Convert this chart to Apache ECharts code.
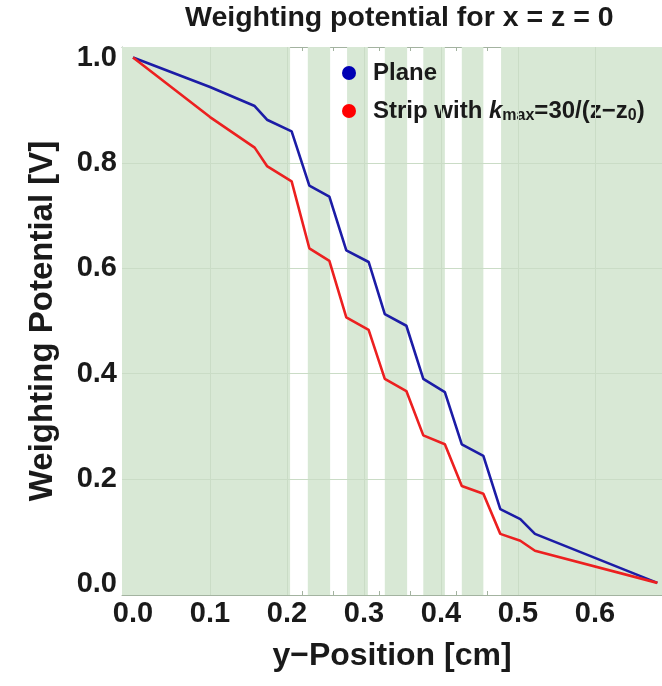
<!DOCTYPE html>
<html>
<head>
<meta charset="utf-8">
<script src="https://cdn.jsdelivr.net/npm/echarts@6/dist/echarts.min.js"></script>
<style>html,body{margin:0;padding:0;background:#fff}#c{width:662px;height:686px}</style>
</head>
<body>
<div id="c"></div>
<script>
// ---- data ----
const yPosition = [0, 0.1, 0.158, 0.174, 0.206, 0.229, 0.255, 0.277, 0.306, 0.327, 0.355, 0.377, 0.405, 0.427, 0.455, 0.477, 0.503, 0.522, 0.681];
const planePotential = [1.0, 0.944, 0.908, 0.882, 0.860, 0.757, 0.736, 0.634, 0.612, 0.513, 0.491, 0.390, 0.365, 0.266, 0.244, 0.143, 0.124, 0.096, 0.003];
const stripPotential = [1.0, 0.887, 0.829, 0.794, 0.765, 0.638, 0.614, 0.507, 0.483, 0.390, 0.367, 0.283, 0.266, 0.187, 0.172, 0.096, 0.083, 0.064, 0.003];
// shaded (strip) regions along y-position [cm]
const stripStarts = [-0.0143, 0.227, 0.278, 0.327, 0.377, 0.427, 0.478];
const stripEnds   = [0.204, 0.256, 0.305, 0.356, 0.405, 0.455, 0.687];
const xTickLabels = [0.0, 0.1, 0.2, 0.3, 0.4, 0.5, 0.6];
const yTickLabels = [0.0, 0.2, 0.4, 0.6, 0.8, 1.0];
const xMinorTicks = [0,0.02,0.04,0.06,0.08,0.1,0.12,0.14,0.16,0.18,0.2,0.22,0.24,0.26,0.28,0.3,0.32,0.34,0.36,0.38,0.4,0.42,0.44,0.46,0.48,0.5,0.52,0.54,0.56,0.58,0.6,0.62,0.64,0.66,0.68];
const yMinorTicks = [0,0.05,0.1,0.15,0.2,0.25,0.3,0.35,0.4,0.45,0.5,0.55,0.6,0.65,0.7,0.75,0.8,0.85,0.9,0.95,1.0];
const seriesNames = ['Plane', 'Strip with k_max=30/(z−z_0)'];

const X_MIN = -0.0143, X_MAX = 0.687, Y_MIN = -0.02, Y_MAX = 1.02;
const FONT = '"Liberation Sans", Arial, sans-serif';
const frameColor = '#a3b3a0';

const chart = echarts.init(document.getElementById('c'));

const xAxisBase = {
  type: 'value', min: X_MIN, max: X_MAX,
  axisLine: { show: true, onZero: false, lineStyle: { color: frameColor, width: 1 } },
  axisTick: { show: true, inside: true, length: 4, customValues: xMinorTicks, lineStyle: { color: frameColor } },
  splitLine: { show: false }
};
const yAxisBase = {
  type: 'value', min: Y_MIN, max: Y_MAX,
  axisLine: { show: true, onZero: false, lineStyle: { color: frameColor, width: 1 } },
  axisTick: { show: true, inside: true, length: 4, customValues: yMinorTicks, lineStyle: { color: frameColor } },
  splitLine: { show: false }
};

const gridLines = xTickLabels.filter(v => v > 0).map(v => ({ xAxis: v }))
  .concat(yTickLabels.filter(v => v > 0 && v < 1).map(v => ({ yAxis: v })));

chart.setOption({
  animation: false,
  backgroundColor: '#ffffff',
  title: {
    text: 'Weighting potential for x = z = 0',
    left: 180, top: -1,
    textStyle: { fontFamily: FONT, fontWeight: 'bold', fontSize: 28.5, color: '#1a1a1a' }
  },
  legend: {
    orient: 'vertical', left: 337, top: 55,
    itemWidth: 14, itemHeight: 14, itemGap: 12,
    icon: 'circle',
    data: seriesNames,
    formatter: function (n) {
      if (n === seriesNames[0]) return 'Plane';
      return 'Strip with {k|k}{sub|max}=30/(z−z{sub|0})';
    },
    textStyle: {
      fontFamily: FONT, fontWeight: 'bold', fontSize: 24, color: '#1a1a1a',
      padding: [0, 0, 0, 12], lineHeight: 26,
      rich: {
        k: { fontFamily: FONT, fontWeight: 'bold', fontStyle: 'italic', fontSize: 24, color: '#1a1a1a', lineHeight: 26 },
        sub: { fontFamily: FONT, fontWeight: 'bold', fontSize: 16, color: '#1a1a1a', verticalAlign: 'bottom', lineHeight: 15 }
      }
    }
  },
  grid: { left: 122, right: 0, top: 47, bottom: 91, containLabel: false },
  xAxis: [
    Object.assign({}, xAxisBase, {
      position: 'bottom',
      name: 'y−Position [cm]', nameLocation: 'middle', nameGap: 45,
      nameTextStyle: { fontFamily: FONT, fontWeight: 'bold', fontSize: 32, color: '#1a1a1a' },
      axisLabel: { show: true, customValues: xTickLabels, margin: 4, formatter: v => v.toFixed(1),
        fontFamily: FONT, fontWeight: 'bold', fontSize: 29, color: '#1a1a1a' }
    }),
    Object.assign({}, xAxisBase, { position: 'top', axisLabel: { show: false } })
  ],
  yAxis: [
    Object.assign({}, yAxisBase, {
      position: 'left',
      name: 'Weighting Potential [V]', nameLocation: 'middle', nameGap: 63,
      nameTextStyle: { fontFamily: FONT, fontWeight: 'bold', fontSize: 33, color: '#1a1a1a' },
      axisLabel: { show: true, customValues: yTickLabels, margin: 5, formatter: v => v.toFixed(1),
        fontFamily: FONT, fontWeight: 'bold', fontSize: 29, color: '#1a1a1a' }
    })
  ],
  series: [
    {
      name: 'bands', type: 'line', data: [], z: 1, silent: true,
      markArea: {
        silent: true,
        itemStyle: { color: '#d8e8d5' },
        data: stripStarts.map((s, i) => [{ xAxis: s }, { xAxis: stripEnds[i] }])
      },
      markLine: {
        silent: true, symbol: 'none', label: { show: false },
        lineStyle: { color: '#cadcc6', width: 1, type: 'solid' },
        data: gridLines
      }
    },
    {
      name: seriesNames[0], type: 'line', z: 3, zlevel: 1,
      data: yPosition.map((x, i) => [x, planePotential[i]]),
      showSymbol: false, symbol: 'circle', symbolSize: 14,
      itemStyle: { color: '#0000b4' },
      lineStyle: { color: '#1c1ca6', width: 2.6 }
    },
    {
      name: seriesNames[1], type: 'line', z: 3, zlevel: 1,
      data: yPosition.map((x, i) => [x, stripPotential[i]]),
      showSymbol: false, symbol: 'circle', symbolSize: 14,
      itemStyle: { color: '#ff0000' },
      lineStyle: { color: '#ec2020', width: 2.6 }
    }
  ]
});
</script>
</body>
</html>
